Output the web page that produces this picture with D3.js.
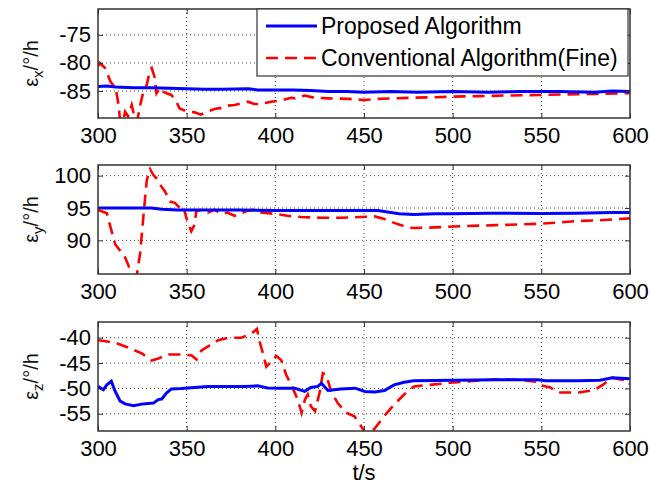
<!DOCTYPE html>
<html>
<head>
<meta charset="utf-8">
<script src="https://d3js.org/d3.v7.min.js"></script>
<style>
body { margin: 0; background: #fff; }
text { font-family: Arial, "Liberation Sans", Helvetica, sans-serif; }
</style>
</head>
<body>
<div id="chart-area"></div>
<script>
/*
*    three stacked panels: eps_x, eps_y, eps_z vs t
*/

// time axis
var xTicks = [300, 350, 400, 450, 500, 550, 600];

// eps_x
var xTicksY1 = [-75, -80, -85];
var tPropX = [300, 305, 310, 320, 330, 340, 350, 360, 370, 385, 390, 400, 410, 420, 430, 440, 450, 465, 480, 500, 520, 540, 560, 580, 590, 600];
var propX = [-84.2, -84.1, -84.3, -84.4, -84.4, -84.5, -84.6, -84.7, -84.7, -84.6, -84.8, -84.8, -84.8, -84.9, -85.1, -85.1, -85.2, -85.1, -85.2, -85.1, -85.2, -85.1, -85.1, -85.2, -85.0, -85.1];
var tConvX = [300, 301, 304, 307, 310, 311.6, 312.5, 314, 315.3, 317, 319, 320, 322, 323.8, 325.6, 327.5, 329.4, 330.3, 331.8, 333, 334.9, 336.7, 338.6, 341.4, 344.2, 346, 349.8, 354.5, 358, 362, 365.7, 369.5, 373, 377, 380.7, 384.5, 388, 392, 397.6, 403, 409, 411, 416.5, 422, 430, 441, 450, 457.6, 467, 476, 490, 500, 515, 530, 550, 565, 580, 597, 600];
var convX = [-80.6, -80.0, -80.9, -83.3, -84.5, -87.5, -90.5, -90.5, -88.7, -89.5, -87.5, -88.8, -90.5, -87.5, -85.1, -83.9, -81.2, -80.9, -82.4, -85.4, -84.5, -85.1, -85.4, -85.7, -86.9, -88.1, -88.6, -88.8, -89.2, -88.6, -88.2, -88.0, -87.6, -87.5, -87.2, -86.9, -87.3, -87.3, -86.9, -86.7, -86.2, -86.3, -85.8, -86.2, -86.3, -86.4, -86.6, -86.4, -86.3, -86.2, -86.1, -86.0, -85.9, -85.8, -85.7, -85.6, -85.5, -85.4, -85.4];

// eps_y
var yTicksY2 = [100, 95, 90];
var tPropY = [300, 320, 330, 336, 345, 360, 380, 400, 420, 440, 458, 465, 470, 478, 490, 500, 520, 550, 570, 590, 600];
var propY = [95.0, 95.0, 95.0, 94.8, 94.7, 94.7, 94.7, 94.6, 94.6, 94.6, 94.6, 94.3, 94.1, 94.0, 94.1, 94.1, 94.2, 94.15, 94.2, 94.3, 94.3];
var tConvY = [300, 305, 306.9, 309.7, 312.5, 315.3, 317.2, 319, 321.9, 323.8, 325.6, 327.5, 329.4, 331.2, 333, 335, 337.8, 340.6, 343.3, 346.2, 348, 349.8, 352.6, 354.5, 355.4, 358.3, 362, 365.7, 369.5, 373, 377, 380.7, 384.5, 388, 392, 399.6, 407, 414.6, 425.8, 437, 448, 456, 461.5, 467, 474.5, 478, 490, 501, 524, 548, 560, 571, 583, 600];
var convY = [94.7, 94.2, 92.2, 89.4, 88.4, 87.35, 86.1, 84.5, 84.6, 88.1, 93.7, 99.3, 101.0, 100.1, 99.6, 98.6, 97.55, 96.0, 95.8, 95.0, 95.3, 93.5, 91.4, 92.45, 94.5, 94.75, 94.3, 94.75, 94.1, 94.3, 93.8, 94.2, 94.6, 94.75, 94.3, 94.1, 93.8, 93.6, 93.5, 93.5, 93.6, 93.7, 93.3, 92.7, 92.0, 91.9, 92.0, 92.15, 92.35, 92.55, 92.75, 93.0, 93.1, 93.4];

// eps_z
var yTicksY3 = [-40, -45, -50, -55];
var tPropZ = [300, 303, 305, 307.5, 309.7, 312.5, 315.3, 320, 324.7, 331.2, 334, 335.9, 338.6, 341.4, 347, 354.5, 362, 373, 382.5, 390, 395.7, 403, 411, 416.5, 420, 424, 426, 429.7, 437, 445, 450.5, 456, 461.5, 467, 472.6, 478, 501, 524.5, 548, 552.5, 571, 583, 590, 600];
var propZ = [-49.6, -50.25, -49.3, -48.6, -50.6, -52.5, -53.06, -53.4, -53.1, -52.9, -52.2, -52.1, -50.9, -50.1, -50.0, -49.8, -49.6, -49.6, -49.6, -49.5, -49.9, -49.95, -49.95, -50.6, -49.8, -49.6, -49.0, -50.4, -50.1, -49.95, -50.6, -50.7, -50.4, -49.3, -48.8, -48.5, -48.4, -48.3, -48.3, -48.5, -48.5, -48.4, -47.9, -48.1];
var tConvZ = [300, 303.5, 309.7, 317.2, 324.7, 330.3, 334, 339.7, 347.2, 352.8, 355.6, 358.4, 363, 367.7, 373.3, 380.8, 386.5, 389.6, 391.2, 393, 394.9, 397.7, 400.5, 403.3, 406.1, 409.8, 412.6, 414.8, 416.7, 418.3, 420, 422.4, 424.9, 426.8, 428.6, 431.5, 435.2, 440, 444.6, 448.3, 451, 455.7, 461.3, 467, 472.6, 478.2, 490, 501, 513, 524.5, 536, 548, 550, 555, 559.5, 571, 580, 585, 590, 594, 599, 600];
var convZ = [-40.5, -40.65, -41.0, -41.95, -43.1, -44.5, -44.1, -43.3, -43.3, -43.5, -44.3, -42.5, -41.5, -40.5, -40.0, -40.0, -39.2, -38.25, -40.8, -43.1, -45.7, -44.7, -43.6, -44.4, -47.3, -49.9, -52.2, -54.8, -52.2, -51.2, -53.5, -54.5, -50.9, -47.0, -47.3, -50.6, -52.9, -54.8, -55.5, -57.4, -59.0, -58.05, -55.5, -53.2, -51.2, -49.6, -49.2, -48.8, -48.5, -48.2, -48.3, -48.7, -49.4, -49.8, -50.8, -50.8, -50.3, -49.2, -47.9, -48.2, -48.5, -49.2];

var legendNames = ["Proposed Algorithm", "Conventional Algorithm(Fine)"];

var margin = { left: 98, right: 20 };
var width = 650 - margin.left - margin.right,
    height = 109;
var panelTop = [9, 165, 322];

var panels = [
    { sub: "x", domain: [-89.8, -70.4], ticks: xTicksY1, tP: tPropX, p: propX, tC: tConvX, c: convX },
    { sub: "y", domain: [84.8, 101.65], ticks: yTicksY2, tP: tPropY, p: propY, tC: tConvY, c: convY },
    { sub: "z", domain: [-58.4, -36.9], ticks: yTicksY3, tP: tPropZ, p: propZ, tC: tConvZ, c: convZ }
];

var svg = d3.select("#chart-area").append("svg")
    .attr("width", 650)
    .attr("height", 487);

var x = d3.scaleLinear().domain([300, 600]).range([0, width]);

var blue = "#0000ff", red = "#ff0000";
var dash = "12,7";
var plainFormat = (d) => String(d);

panels.forEach(function(p, i) {
    var g = svg.append("g")
        .attr("transform", "translate(" + margin.left + ", " + panelTop[i] + ")");
    var y = d3.scaleLinear().domain(p.domain).range([height, 0]);

    // grid
    g.selectAll(".gx").data(xTicks.slice(1, -1)).enter().append("line")
        .attr("x1", (d) => x(d)).attr("x2", (d) => x(d))
        .attr("y1", 0).attr("y2", height)
        .attr("stroke", "#444").attr("stroke-width", 1)
        .attr("stroke-dasharray", "1,3");
    g.selectAll(".gy").data(p.ticks).enter().append("line")
        .attr("x1", 0).attr("x2", width)
        .attr("y1", (d) => y(d)).attr("y2", (d) => y(d))
        .attr("stroke", "#444").attr("stroke-width", 1)
        .attr("stroke-dasharray", "1,3");

    // lines
    svg.append("clipPath").attr("id", "clip" + i)
        .append("rect").attr("width", width).attr("height", height);
    var plot = g.append("g").attr("clip-path", "url(#clip" + i + ")");

    var line = d3.line().x((d) => x(d[0])).y((d) => y(d[1]));

    plot.append("path")
        .datum(d3.zip(p.tC, p.c))
        .attr("d", line)
        .attr("fill", "none")
        .attr("stroke", red)
        .attr("stroke-width", 2.6)
        .attr("stroke-dasharray", dash);

    plot.append("path")
        .datum(d3.zip(p.tP, p.p))
        .attr("d", line)
        .attr("fill", "none")
        .attr("stroke", blue)
        .attr("stroke-width", 3);

    // axes (MATLAB box, inward ticks)
    g.append("g").attr("transform", "translate(0, " + height + ")")
        .call(d3.axisBottom(x).tickValues(xTicks).tickFormat(plainFormat)
            .tickSizeInner(-5).tickSizeOuter(0).tickPadding(9));
    g.append("g")
        .call(d3.axisLeft(y).tickValues(p.ticks).tickFormat(plainFormat)
            .tickSizeInner(-5).tickSizeOuter(0).tickPadding(7));
    g.append("g")
        .call(d3.axisTop(x).tickValues(xTicks).tickSizeInner(-5).tickSizeOuter(0).tickFormat(""));
    g.append("g").attr("transform", "translate(" + width + ", 0)")
        .call(d3.axisRight(y).tickValues(p.ticks).tickSizeInner(-5).tickSizeOuter(0).tickFormat(""));

    g.selectAll(".domain").remove();
    g.selectAll(".tick line").attr("stroke", "#333");
    g.selectAll(".tick text")
        .attr("font-size", "22px")
        .attr("font-family", "Arial, 'Liberation Sans', sans-serif")
        .attr("fill", "#000");

    g.append("rect")
        .attr("width", width).attr("height", height)
        .attr("fill", "none")
        .attr("stroke", "#333")
        .attr("stroke-width", 1.5);

    // y label
    var yl = g.append("text")
        .attr("transform", "translate(-60, " + (height / 2) + ") rotate(-90)")
        .attr("text-anchor", "middle")
        .attr("font-size", "20px")
        .attr("fill", "#111");
    yl.append("tspan").text("\u03b5");
    yl.append("tspan").attr("dy", 5).attr("font-size", "15px").text(p.sub);
    yl.append("tspan").attr("dy", -5).text("/\u00b0/h");
});

// X Label
svg.append("text")
    .attr("x", margin.left + width / 2)
    .attr("y", 480)
    .attr("text-anchor", "middle")
    .attr("font-size", "22px")
    .attr("fill", "#000")
    .text("t/s");

// legend
var lg = svg.append("g");
lg.append("rect")
    .attr("x", 257).attr("y", 9)
    .attr("width", 371).attr("height", 67)
    .attr("fill", "#fff")
    .attr("stroke", "#333")
    .attr("stroke-width", 1.2);

var legendRows = lg.selectAll(".row").data(legendNames).enter().append("g")
    .attr("transform", (d, i) => "translate(266, " + (26 + i * 32) + ")");
legendRows.append("line")
    .attr("x1", 0).attr("x2", 51)
    .attr("stroke", (d, i) => i ? red : blue)
    .attr("stroke-width", (d, i) => i ? 2.6 : 3)
    .attr("stroke-dasharray", (d, i) => i ? dash : null);
legendRows.append("text")
    .attr("x", 55)
    .attr("dy", "0.35em")
    .attr("font-size", "23px")
    .attr("fill", "#000")
    .text((d) => d);
</script>
</body>
</html>
